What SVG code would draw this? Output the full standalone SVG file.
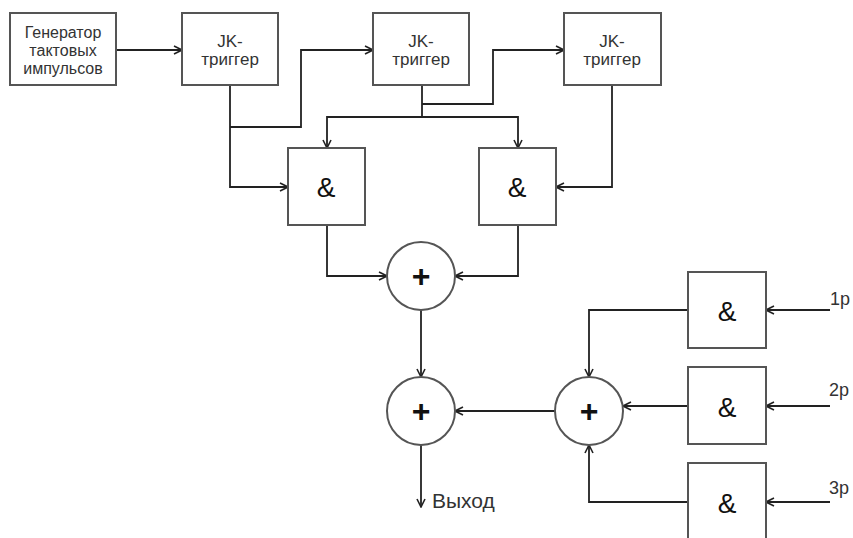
<svg xmlns="http://www.w3.org/2000/svg" width="853" height="538" viewBox="0 0 853 538">
<defs>
<marker id="arr" viewBox="0 0 10 10" refX="9" refY="5" markerWidth="10" markerHeight="10" markerUnits="userSpaceOnUse" orient="auto">
<path d="M1,1 L9,5 L1,9" fill="none" stroke="#222" stroke-width="1.6"/>
</marker>
<style>
.box{fill:#fff;stroke:#555;stroke-width:2}
.circ{fill:#fff;stroke:#555;stroke-width:2}
.ln{fill:none;stroke:#222;stroke-width:1.8}
.la{fill:none;stroke:#222;stroke-width:1.8;marker-end:url(#arr)}
.t{font-family:"Liberation Sans",Arial,sans-serif;fill:#333;text-anchor:middle}
.amp{font-family:"Liberation Sans",Arial,sans-serif;font-size:28px;fill:#111;text-anchor:middle}
.plus{font-family:"Liberation Sans",Arial,sans-serif;font-size:32px;font-weight:bold;fill:#111;text-anchor:middle}
.lbl{font-family:"Liberation Sans",Arial,sans-serif;fill:#333}
</style>
</defs>
<rect width="853" height="538" fill="#fff"/>
<g id="connectors">
<path class="la" d="M116,50 H182"/>
<path class="la" d="M230,85 V187 H288"/>
<path class="la" d="M230,127 H301 V50 H373"/>
<path class="ln" d="M422,85 V117"/>
<path class="la" d="M422,104 H493 V50 H564"/>
<path class="la" d="M422,117 H327 V148"/>
<path class="la" d="M422,117 H518 V148"/>
<path class="la" d="M612,85 V187 H556"/>
<path class="la" d="M327,225 V276 H387"/>
<path class="la" d="M518,225 V276 H455"/>
<path class="la" d="M421,310 V377"/>
<path class="la" d="M555,411 H455"/>
<path class="la" d="M421,445 V507"/>
<path class="la" d="M688,310 H589 V377"/>
<path class="la" d="M688,406 H623"/>
<path class="la" d="M688,502 H589 V445"/>
<path class="la" d="M830,310 H766"/>
<path class="la" d="M830,406 H766"/>
<path class="la" d="M830,502 H766"/>
</g>
<g id="gen">
<rect class="box" x="10" y="13" width="106" height="72"/>
<text class="t" font-size="16" x="63" y="38">Генератор</text>
<text class="t" font-size="16" x="63" y="56">тактовых</text>
<text class="t" font-size="16" x="63" y="74">импульсов</text>
</g>
<g id="jk1">
<rect class="box" x="182" y="13" width="96" height="72"/>
<text class="t" font-size="17" x="230" y="47">JK-</text>
<text class="t" font-size="17" x="230" y="65">триггер</text>
</g>
<g id="jk2">
<rect class="box" x="373" y="13" width="96" height="72"/>
<text class="t" font-size="17" x="421" y="47">JK-</text>
<text class="t" font-size="17" x="421" y="65">триггер</text>
</g>
<g id="jk3">
<rect class="box" x="564" y="13" width="97" height="72"/>
<text class="t" font-size="17" x="612" y="47">JK-</text>
<text class="t" font-size="17" x="612" y="65">триггер</text>
</g>
<g id="and1">
<rect class="box" x="288" y="148" width="77" height="77"/>
<text class="amp" x="326" y="197">&amp;</text>
</g>
<g id="and2">
<rect class="box" x="479" y="148" width="77" height="77"/>
<text class="amp" x="517" y="197">&amp;</text>
</g>
<g id="sum1">
<circle class="circ" cx="421" cy="276" r="34"/>
<text class="plus" x="421" y="287">+</text>
</g>
<g id="sum2">
<circle class="circ" cx="421" cy="411" r="34"/>
<text class="plus" x="421" y="422">+</text>
</g>
<g id="sum3">
<circle class="circ" cx="589" cy="411" r="34"/>
<text class="plus" x="589" y="422">+</text>
</g>
<g id="and3">
<rect class="box" x="688" y="272" width="78" height="76"/>
<text class="amp" x="727" y="321">&amp;</text>
</g>
<g id="and4">
<rect class="box" x="688" y="367" width="78" height="77"/>
<text class="amp" x="727" y="417">&amp;</text>
</g>
<g id="and5">
<rect class="box" x="688" y="463" width="78" height="77"/>
<text class="amp" x="727" y="513">&amp;</text>
</g>
<g id="labels">
<text class="lbl" font-size="21" x="432" y="508">Выход</text>
<text class="lbl" font-size="18" x="830" y="305">1p</text>
<text class="lbl" font-size="18" x="829" y="396">2p</text>
<text class="lbl" font-size="18" x="829" y="494">3p</text>
</g>
</svg>
